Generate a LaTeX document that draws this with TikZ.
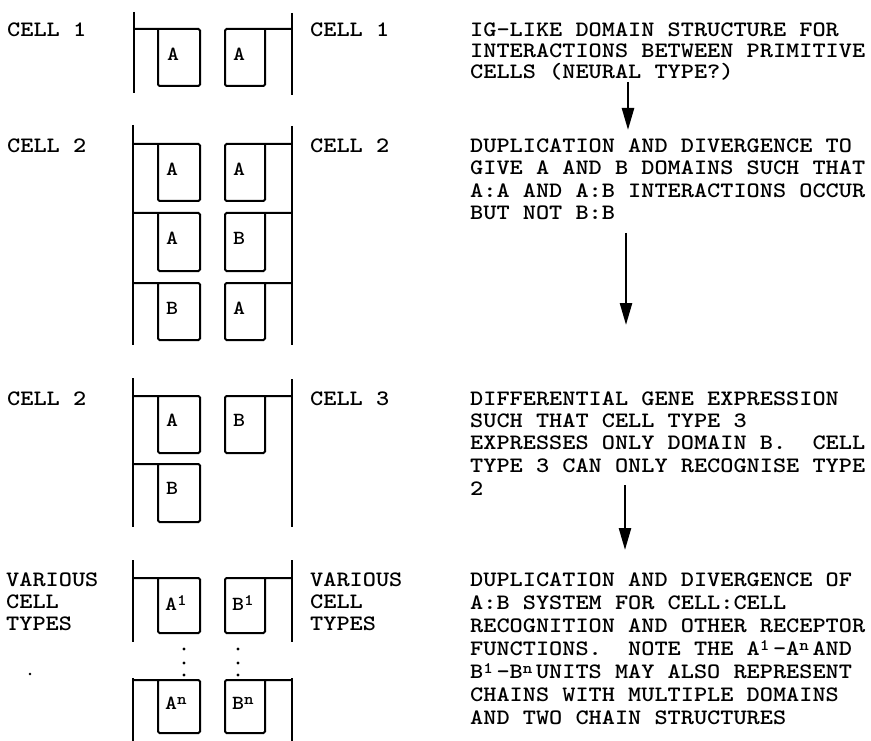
\documentclass[tikz,border=0pt]{standalone}
\usepackage{fontspec}
\usetikzlibrary{arrows.meta}
\newfontfamily\cour{lmmonolt10-bold}[Extension=.otf, FakeStretch=1.14]
\newcommand\upsc[1]{\makebox[13.17pt][l]{\raisebox{5pt}{\fontsize{16}{16}\selectfont #1}}}
\newcommand\upsb[1]{\raisebox{5pt}{\fontsize{16}{16}\selectfont #1}}
\begin{document}
\begin{tikzpicture}[x=1pt,y=-1pt,
  txt/.style={font=\cour\frenchspacing\fontsize{22}{22}\selectfont, inner sep=0pt, anchor=base west},
  lbl/.style={font=\cour\fontsize{20}{20}\selectfont, inner sep=0pt, anchor=west},
  memb/.style={line width=2.2pt},
  dom/.style={line width=2pt, rounded corners=1.5pt},
  flow/.style={line width=2.5pt, -{Triangle[length=22pt,width=12pt]}}]
\useasboundingbox (0,0) rectangle (871,741);
\newcommand\ldom[2]{\draw[dom] (133,#1) -- (200,#1) -- (200,#2) -- (158,#2) -- (158,#1);}
\newcommand\rdom[2]{\draw[dom] (292,#1) -- (225,#1) -- (225,#2) -- (265,#2) -- (265,#1);}

% ---------- section 1
\draw[memb] (134,12) -- (134,93);
\draw[memb] (292,13) -- (292,95);
\ldom{29}{86}
\rdom{29}{86}
\node[lbl] (s1a) at (167,54) {A};
\node[lbl] (s1b) at (233,54) {A};

% ---------- section 2
\draw[memb] (133,125) -- (133,345);
\draw[memb] (292,126) -- (292,345);
\ldom{144}{201} \rdom{144}{201}
\ldom{213}{271} \rdom{213}{271}
\ldom{283}{340} \rdom{283}{340}
\node[lbl] (s2a) at (166,169) {A};
\node[lbl] (s2b) at (233,169) {A};
\node[lbl] (s2c) at (166,238) {A};
\node[lbl] (s2d) at (233,238) {B};
\node[lbl] (s2e) at (166,308) {B};
\node[lbl] (s2f) at (233,308) {A};

% ---------- section 3
\draw[memb] (133,378) -- (133,527);
\draw[memb] (292,379) -- (292,527);
\ldom{396}{453} \rdom{396}{453}
\draw[dom] (133,464) -- (200,464) -- (200,522) -- (158,522) -- (158,464);
\node[lbl] (s3a) at (166,420) {A};
\node[lbl] (s3b) at (233,420) {B};
\node[lbl] (s3c) at (166,488) {B};

% ---------- section 4
\draw[memb] (133,560) -- (133,642);
\draw[memb] (292,560) -- (292,642);
\draw[memb] (133,678) -- (133,741);
\draw[memb] (292,678) -- (292,741);
\ldom{578}{633} \rdom{578}{633}
\ldom{680}{733} \rdom{680}{733}
\node[lbl] (s4a) at (165,603) {A\upsb{1}};
\node[lbl] (s4b) at (232,603) {B\upsb{1}};
\node[lbl] (s4c) at (165,703) {A\upsb{n}};
\node[lbl] (s4d) at (232,703) {B\upsb{n}};
\foreach \yy in {649,663,675}{
  \fill (184,\yy) circle (1.7pt);
  \fill (238,\yy) circle (1.7pt);
}
\fill (30,674) circle (1.3pt);

% ---------- cell labels
\node[txt] (l1) at (7,37) {CELL 1};
\node[txt] (r1) at (310,37) {CELL 1};
\node[txt] (l2) at (7,153) {CELL 2};
\node[txt] (r2) at (310,153) {CELL 2};
\node[txt] (l3) at (7,405) {CELL 2};
\node[txt] (r3) at (310,405) {CELL 3};
\node[txt] (l4a) at (6,586) {VARIOUS};
\node[txt] (l4b) at (6,608) {CELL};
\node[txt] (l4c) at (6,630) {TYPES};
\node[txt] (r4a) at (310,586) {VARIOUS};
\node[txt] (r4b) at (310,608) {CELL};
\node[txt] (r4c) at (310,630) {TYPES};

% ---------- explanatory texts
\node[txt] (t1a) at (470,37) {IG-LIKE DOMAIN STRUCTURE FOR};
\node[txt] (t1b) at (470,58) {INTERACTIONS BETWEEN PRIMITIVE};
\node[txt] (t1c) at (470,79) {CELLS (NEURAL TYPE?)};

\node[txt] (t2a) at (470,153) {DUPLICATION AND DIVERGENCE TO};
\node[txt] (t2b) at (470,175) {GIVE A AND B DOMAINS SUCH THAT};
\node[txt] (t2c) at (470,197) {A:A AND A:B INTERACTIONS OCCUR};
\node[txt] (t2d) at (470,219) {BUT NOT B:B};

\node[txt] (t3a) at (470,405) {DIFFERENTIAL GENE EXPRESSION};
\node[txt] (t3b) at (470,427) {SUCH THAT CELL TYPE 3};
\node[txt] (t3c) at (470,449) {EXPRESSES ONLY DOMAIN B.\ \ CELL};
\node[txt] (t3d) at (470,472) {TYPE 3 CAN ONLY RECOGNISE TYPE};
\node[txt] (t3e) at (470,495) {2};

\node[txt] (t4a) at (470,586) {DUPLICATION AND DIVERGENCE OF};
\node[txt] (t4b) at (470,609) {A:B SYSTEM FOR CELL:CELL};
\node[txt] (t4c) at (470,632) {RECOGNITION AND OTHER RECEPTOR};
\node[txt] (t4d) at (470,655) {FUNCTIONS.\ \ NOTE THE A\upsc{1}-A\upsc{n}AND};
\node[txt] (t4e) at (470,678) {B\upsc{1}-B\upsc{n}UNITS MAY ALSO REPRESENT};
\node[txt] (t4f) at (470,701) {CHAINS WITH MULTIPLE DOMAINS};
\node[txt] (t4g) at (470,724) {AND TWO CHAIN STRUCTURES};

% ---------- arrows
\coordinate (a1s) at (628,82);  \coordinate (a1e) at (628,130);
\coordinate (a2s) at (626,233); \coordinate (a2e) at (626,325);
\coordinate (a3s) at (625,485); \coordinate (a3e) at (625,550);
\draw[flow] (a1s) -- (a1e);
\draw[flow] (a2s) -- (a2e);
\draw[flow] (a3s) -- (a3e);
\end{tikzpicture}
\end{document}
